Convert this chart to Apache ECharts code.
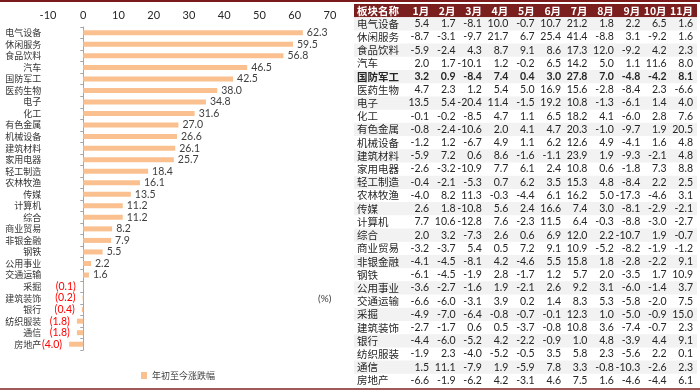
<!DOCTYPE html>
<html>
<head>
<meta charset="utf-8">
<script src="https://cdn.jsdelivr.net/npm/echarts@6/dist/echarts.min.js"></script>
<style>html,body{margin:0;padding:0;background:#fff}#c{width:700px;height:392px}</style>
</head>
<body>
<div id="c"></div>
<script>
// ---------- DATA ----------
const sectors = ['电气设备','休闲服务','食品饮料','汽车','国防军工','医药生物','电子','化工','有色金属','机械设备','建筑材料','家用电器','轻工制造','农林牧渔','传媒','计算机','综合','商业贸易','非银金融','钢铁','公用事业','交通运输','采掘','建筑装饰','银行','纺织服装','通信','房地产'];
const ytdChange = [62.3,59.5,56.8,46.5,42.5,38.0,34.8,31.6,27.0,26.6,26.1,25.7,18.4,16.1,13.5,11.2,11.2,8.2,7.9,5.5,2.2,1.6,-0.1,-0.2,-0.4,-1.8,-1.8,-4.0];
const xTicks = [-10, 0, 10, 20, 30, 40, 50, 60, 70];
const legendName = '年初至今涨跌幅';
const unitLabel = '(%)';
const tableHeader = ['板块名称','1月','2月','3月','4月','5月','6月','7月','8月','9月','10月','11月'];
const highlightRow = '国防军工';
const jan = [5.4,-8.7,-5.9,2.0,3.2,4.7,13.5,-0.1,-0.8,-1.2,-5.9,-2.6,-0.4,-4.0,2.6,7.7,2.0,-3.2,-4.1,-6.1,-3.6,-6.6,-4.9,-2.7,-4.4,-1.9,1.5,-6.6];
const feb = [1.7,-3.1,-2.4,1.7,0.9,2.3,5.4,-0.2,-2.4,1.2,7.2,-3.2,-2.1,8.2,1.8,10.6,3.2,-3.7,-4.5,-4.5,-2.7,-6.0,-7.0,-1.7,-6.0,2.3,11.1,-1.9];
const mar = [-8.1,-9.7,4.3,-10.1,-8.4,1.2,-20.4,-8.5,-10.6,-6.7,0.6,-10.9,-5.3,11.3,-10.8,-12.8,-7.3,5.4,-8.1,-1.9,-1.6,-3.1,-6.4,0.6,-5.2,-4.0,-7.9,-6.2];
const apr = [10.0,21.7,8.7,1.2,7.4,5.4,11.4,4.7,2.0,4.9,8.6,7.7,0.7,-0.3,5.6,7.6,2.6,0.5,4.2,2.8,1.9,3.9,-0.8,0.5,4.2,-5.2,1.9,4.2];
const may = [-0.7,6.7,9.1,-0.2,0.4,5.0,-1.5,1.1,4.1,1.1,-1.6,6.1,6.2,-4.4,2.4,-2.3,0.6,7.2,-4.6,-1.7,-2.1,0.2,-0.7,-3.7,-2.2,-0.5,-5.9,-3.1];
const jun = [10.7,25.4,8.6,6.5,3.0,16.9,19.2,6.5,4.7,6.2,-1.1,2.4,3.5,6.1,16.6,11.5,6.9,9.1,5.5,1.2,2.6,1.4,-0.1,-0.8,-0.9,3.5,7.8,4.6];
const jul = [21.2,41.4,17.3,14.2,27.8,15.6,10.8,18.2,20.3,12.6,23.9,10.8,15.3,16.2,7.4,6.4,12.0,10.9,15.8,5.7,9.2,8.3,12.3,10.8,1.0,5.8,3.3,7.5];
const aug = [1.8,-8.8,12.0,5.0,7.0,-2.8,-1.3,4.1,-1.0,4.9,1.9,0.6,4.8,5.0,3.0,-0.3,2.2,-5.2,1.8,2.0,3.1,5.3,1.0,3.6,4.8,2.3,-0.8,1.6];
const sep = [2.2,3.1,-9.2,1.1,-4.8,-8.4,-6.1,-6.0,-9.7,-4.1,-9.3,-1.8,-8.4,-17.3,-8.1,-8.8,-10.7,-8.2,-2.8,-3.5,-6.0,-5.8,-5.0,-7.4,-3.9,-5.6,-10.3,-4.6];
const oct = [6.5,-9.2,4.2,11.6,-4.2,2.3,1.4,2.8,1.9,1.6,-2.1,7.3,2.2,-4.6,-2.9,-3.0,1.9,-1.9,-2.2,1.7,-1.4,-2.0,-0.9,-0.7,4.4,2.2,-2.6,-4.4];
const nov = [1.6,1.6,2.3,8.0,8.1,-6.6,4.0,7.6,20.5,4.8,4.8,8.8,2.5,3.1,-2.1,-2.7,-0.7,-1.2,9.1,10.9,3.7,7.5,15.0,2.3,9.1,0.1,2.3,6.1];

// ---------- BUILD ----------
const months = [jan, feb, mar, apr, may, jun, jul, aug, sep, oct, nov];
const tableRows = [tableHeader].concat(sectors.map((s, i) => [s].concat(months.map(m => m[i].toFixed(1)))));
const tableYCats = tableRows.map(r => r[0]);
const tableXCats = ['n0','n1'].concat(tableHeader.slice(1));

const CJK = '"Noto Sans CJK SC"';
const NUM = 'Lato, "Noto Sans CJK SC"';

const barData = ytdChange.map(v => ({
  value: v,
  label: v < 0 ? { position: 'left', distance: 7, color: '#FF0000' } : { position: 'right', distance: 4, color: '#404040' }
}));

const gridLeft = 48, gridRight = 370;
const xMin = xTicks[0], xMax = xTicks[xTicks.length - 1];
// shift the category axis so it sits on the zero line
const zeroOffset = -(0 - xMin) / (xMax - xMin) * (700 - gridLeft - gridRight);

const chart = echarts.init(document.getElementById('c'), null, { renderer: 'canvas' });
chart.setOption({
  animation: false,
  backgroundColor: '#fff',
  textStyle: { fontFamily: NUM },
  grid: [
    { left: gridLeft, right: gridRight, top: 27, bottom: 42, containLabel: false, outerBoundsMode: 'none' },
    { left: 354, top: 4, width: 343, height: 383, containLabel: false, outerBoundsMode: 'none' }
  ],
  legend: {
    data: [legendName],
    left: 136, top: 366,
    icon: 'rect', itemWidth: 6, itemHeight: 7, itemGap: 4,
    textStyle: { fontFamily: CJK, fontSize: 9, color: '#404040' }
  },
  graphic: [
    { type: 'rect', left: 0, top: 0, shape: { width: 700, height: 2 }, style: { fill: '#7A1A1A' } },
    { type: 'rect', left: 0, top: 388, shape: { width: 700, height: 2 }, style: { fill: '#A05858' } },
    { type: 'text', left: 318, top: 294, style: { text: unitLabel, font: '10px Lato', fill: '#404040' } }
  ],
  xAxis: [
    {
      type: 'value', gridIndex: 0, position: 'top',
      min: xMin, max: xMax, interval: 10,
      axisLine: { show: false }, axisTick: { show: false }, splitLine: { show: false },
      axisLabel: { margin: 6, fontSize: 11, color: '#262626', fontFamily: NUM }
    },
    {
      type: 'category', gridIndex: 1, data: tableXCats, show: false
    }
  ],
  yAxis: [
    {
      type: 'category', gridIndex: 0, data: sectors, inverse: true,
      offset: zeroOffset,
      axisLine: { show: true, onZero: false, lineStyle: { color: '#A6A6A6' } },
      axisTick: { show: true, length: 3, lineStyle: { color: '#A6A6A6' } },
      axisLabel: { interval: 0, margin: 42, fontSize: 9, color: '#333', fontFamily: CJK }
    },
    {
      type: 'category', gridIndex: 1, data: tableYCats, inverse: true, show: false
    }
  ],
  series: [
    {
      name: legendName, type: 'bar', xAxisIndex: 0, yAxisIndex: 0,
      data: barData, barWidth: 5,
      itemStyle: { color: '#FAC090' },
      label: {
        show: true, fontSize: 10.5, fontFamily: NUM,
        formatter: p => p.value < 0 ? '(' + Math.abs(p.value).toFixed(1) + ')' : p.value.toFixed(1)
      }
    },
    {
      type: 'custom', xAxisIndex: 1, yAxisIndex: 1,
      data: tableRows.map((r, i) => [0, i]),
      encode: { x: 0, y: 1 },
      renderItem: function (params, api) {
        const r = api.value(1);
        const sz = api.size([1, 1]);
        const cw = sz[0], ch = sz[1];
        const c0 = api.coord([0, r]);
        const cN = api.coord([tableXCats.length - 1, r]);
        const x0 = c0[0] - cw / 2, x1 = cN[0] + cw / 2, yc = c0[1];
        const row = tableRows[r];
        const header = r === 0;
        const bold = header || row[0] === highlightRow;
        const children = [];
        const bg = header ? '#7A1E1E' : (r % 2 === 1 ? '#F2F2F2' : null);
        if (bg) children.push({ type: 'rect', shape: { x: x0, y: yc - ch / 2, width: x1 - x0, height: ch }, style: { fill: bg } });
        const fill = header ? '#FFFFFF' : '#262626';
        children.push({
          type: 'text', x: x0 + 3, y: yc,
          style: { text: row[0], fill: fill, fontSize: 10.5, fontFamily: CJK, fontWeight: bold ? 'bold' : 'normal', align: 'left', verticalAlign: 'middle' }
        });
        for (let k = 1; k < row.length; k++) {
          const cx = api.coord([k + 1, r])[0] + cw / 2 - 4;
          children.push({
            type: 'text', x: cx, y: yc,
            style: { text: row[k], fill: fill, fontSize: 10.5, fontFamily: header ? CJK : NUM, fontWeight: bold ? 'bold' : 'normal', align: 'right', verticalAlign: 'middle' }
          });
        }
        return { type: 'group', children: children };
      }
    }
  ]
});
</script>
</body>
</html>
